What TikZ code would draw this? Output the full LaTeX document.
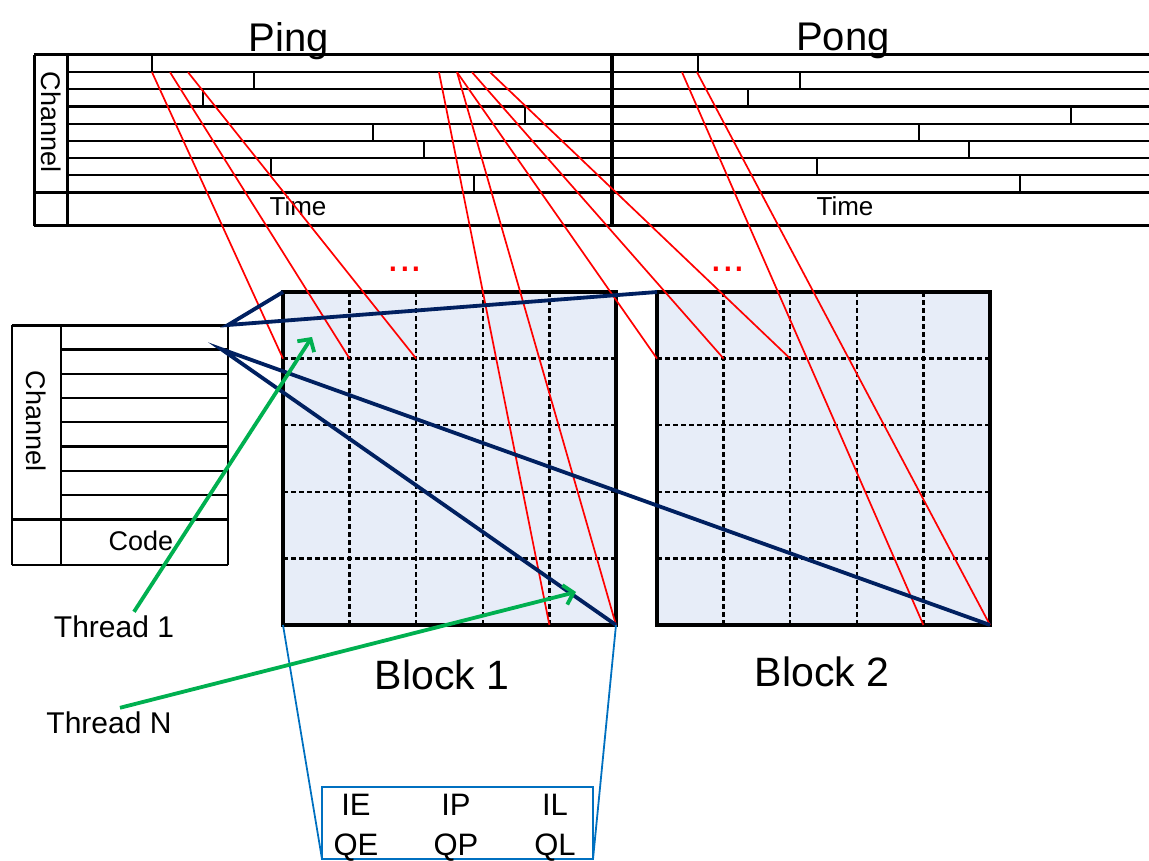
\documentclass[tikz,border=0pt]{standalone}
\usepackage{fontspec}
\setmainfont{Liberation Sans}
\usetikzlibrary{arrows.meta}

\definecolor{cellfill}{RGB}{231,237,248}
\definecolor{navyline}{RGB}{0,32,96}
\definecolor{zoomblue}{RGB}{0,112,192}
\definecolor{threadgreen}{RGB}{0,176,80}

\newcommand{\txtsize}[1]{\fontsize{#1}{#1}\selectfont}

\tikzset{
	tbl/.style={line width=2.2pt},
	tblbold/.style={line width=3pt},
	block/.style={draw,line width=4pt,fill=cellfill,minimum size=333pt,inner sep=0pt,outer sep=0pt},
	cellgrid/.style={line width=2.4pt,dash pattern=on 5pt off 3pt},
	mapline/.style={red,line width=1.7pt},
	chanline/.style={navyline,line width=3.8pt},
	zoomedge/.style={zoomblue,line width=1.8pt},
	zoombox/.style={draw=zoomblue,line width=2.2pt,minimum width=271pt,minimum height=72pt,inner sep=0pt,outer sep=0pt},
	threadarrow/.style={threadgreen,line width=3.8pt,-{Straight Barb[length=9pt,width=20pt]}},
	title/.style={inner sep=0pt,font=\txtsize{40}},
	axis/.style={inner sep=0pt,font=\txtsize{26}},
	blocklabel/.style={inner sep=0pt,font=\txtsize{41}},
	reg/.style={inner sep=0pt,anchor=base,font=\txtsize{31}},
	thread/.style={inner sep=0pt,font=\txtsize{30}},
	dots/.style={inner sep=0pt,anchor=base,red,font=\txtsize{42}}
}

\begin{document}
\begin{tikzpicture}[x=1pt,y=-1pt]
	\useasboundingbox (0,0) rectangle (1149,861);

	% ping / pong buffer, 8 channels over time
	\foreach \r in {1,...,7}
		\draw[tbl] (67,55+\r*17.16) -- (1149,55+\r*17.16);
	\draw[tblbold] (34,55) -- (1149,55) (34,192.3) -- (1149,192.3) (34,226) -- (1149,226)
		(34,55) -- (34,226) (67,55) -- (67,226);
	\draw[line width=4.5pt] (612,55) -- (612,226);
	\foreach \a/\b [count=\r] in {152/698,254/800,203/748,525/1071,373/919,424/969,271/817,474/1020}
		\draw[tbl] (\a,55+\r*17.16-17.16) -- ++(0,17.16) (\b,55+\r*17.16-17.16) -- ++(0,17.16);
	\node[title] (ping) at (289,41) {Ping};
	\node[title] (pong) at (843,41) {Pong};
	\node[axis] (time1) at (298,206) {Time};
	\node[axis] (time2) at (845,206) {Time};
	\node[axis,rotate=-90,font=\txtsize{27}] (chan1) at (51,122) {Channel};

	% sample points on the first channel row
	\foreach \x [count=\k] in {152,170,188,439,457,472,490,682,697}
		\coordinate (smp\k) at (\x,72.2);

	% channel / code table
	\foreach \r in {1,...,7}
		\draw[tbl] (61,325+\r*24.3) -- (228,325+\r*24.3);
	\draw[tblbold] (12,325) -- (228,325) (61,349.3) -- (228,349.3);
	\draw[tbl] (12,519.4) -- (228,519.4) (12,565) -- (228,565)
		(12,325) -- (12,565) (61,325) -- (61,565) (228,325) -- (228,565);
	\node[axis,rotate=-90,font=\txtsize{27}] (chan2) at (36,421) {Channel};
	\node[axis,font=\txtsize{27}] (code) at (141,541) {Code};
	\coordinate (chtop) at (228,325);
	\coordinate (chrow) at (221,349);

	% thread blocks
	\node[block] (blk1) at (449.5,458.5) {};
	\node[block] (blk2) at (823.5,458.5) {};
	\foreach \blk/\x in {b1/283,b2/657}
		\foreach \i in {0,...,5}
			\foreach \j in {0,...,5}
				\coordinate (\blk-\i-\j) at (\x+\i*66.6,292+\j*66.6);
	\foreach \blk in {b1,b2}
		\foreach \k in {1,...,4}
			\draw[cellgrid] (\blk-\k-0) -- (\blk-\k-5) (\blk-0-\k) -- (\blk-5-\k);
	\node[blocklabel] (lbl1) at (442,675) {Block 1};
	\node[blocklabel] (lbl2) at (822,672) {Block 2};
	\node[dots] (more1) at (405,272) {...};
	\node[dots] (more2) at (728,272) {...};

	% samples into block cells
	\foreach \s/\c in {1/b1-0-1,2/b1-1-1,3/b1-2-1,4/b1-4-5,5/b1-5-5,5/b2-0-1,6/b2-1-1,7/b2-2-1,8/b2-4-5,9/b2-5-5}
		\draw[mapline] (smp\s) -- (\c);

	% channel rows spread over the blocks
	\draw[chanline] (blk1.north west) -- (chtop) -- (blk2.north west);
	\draw[chanline] (blk1.south east) -- (chrow) -- (blk2.south east);

	% per-thread registers
	\node[zoombox] (regs) at (457.5,823) {};
	\draw[zoomedge] (blk1.south west) -- (regs.south west) (blk1.south east) -- (regs.south east);
	\foreach \t/\u/\x [count=\k] in {IE/QE/356,IP/QP/456,IL/QL/555}{
		\node[reg] (ireg\k) at (\x,815) {\t};
		\node[reg] (qreg\k) at (\x,855) {\u};
	}

	% threads
	\node[thread] (th1) at (114,627) {Thread 1};
	\node[thread] (thN) at (109,723) {Thread N};
	\coordinate (th1tip) at (312,337);
	\coordinate (thNtip) at (576,592);
	\draw[threadarrow] (th1.north) ++(20,-4) -- (th1tip);
	\draw[threadarrow] (thN.north) ++(11,-4) -- (thNtip);
\end{tikzpicture}
\end{document}
